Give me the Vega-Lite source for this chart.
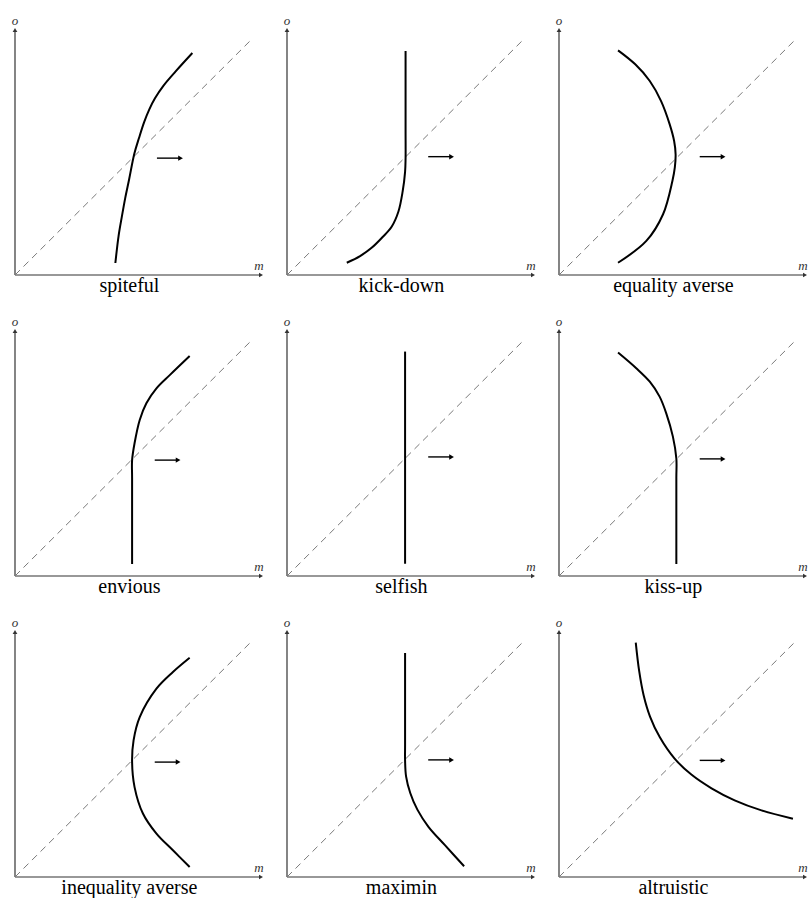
{
  "$schema": "https://vega.github.io/schema/vega-lite/v6.json",
  "bounds": "flush",
  "padding": {"left": 11, "top": 15, "right": 0, "bottom": 0},
  "config": {"view": {"stroke": null}, "headerFacet": {"labels": false, "title": null, "labelFontSize": 0, "labelPadding": 0}, "header": {"labels": false, "labelFontSize": 0, "labelPadding": 0}},
  "data": {"values": [
    {"panel": "spiteful", "kind": "diag", "x": 0, "y": 0, "x2": 0.96, "y2": 0.96},
    {"panel": "spiteful", "kind": "arrow", "x": 0.577, "x2": 0.673, "y": 0.477},
    {"panel": "spiteful", "kind": "curve", "ord": 1, "x": 0.408, "y": 0.049},
    {"panel": "spiteful", "kind": "curve", "ord": 2, "x": 0.421, "y": 0.159},
    {"panel": "spiteful", "kind": "curve", "ord": 3, "x": 0.434, "y": 0.236},
    {"panel": "spiteful", "kind": "curve", "ord": 4, "x": 0.448, "y": 0.314},
    {"panel": "spiteful", "kind": "curve", "ord": 5, "x": 0.464, "y": 0.391},
    {"panel": "spiteful", "kind": "curve", "ord": 6, "x": 0.485, "y": 0.495},
    {"panel": "spiteful", "kind": "curve", "ord": 7, "x": 0.504, "y": 0.559},
    {"panel": "spiteful", "kind": "curve", "ord": 8, "x": 0.525, "y": 0.624},
    {"panel": "spiteful", "kind": "curve", "ord": 9, "x": 0.546, "y": 0.676},
    {"panel": "spiteful", "kind": "curve", "ord": 10, "x": 0.569, "y": 0.721},
    {"panel": "spiteful", "kind": "curve", "ord": 11, "x": 0.603, "y": 0.772},
    {"panel": "spiteful", "kind": "curve", "ord": 12, "x": 0.653, "y": 0.831},
    {"panel": "spiteful", "kind": "curve", "ord": 13, "x": 0.721, "y": 0.906},

    {"panel": "kick-down", "kind": "diag", "x": 0, "y": 0, "x2": 0.96, "y2": 0.96},
    {"panel": "kick-down", "kind": "arrow", "x": 0.574, "x2": 0.669, "y": 0.483},
    {"panel": "kick-down", "kind": "curve", "ord": 1, "x": 0.482, "y": 0.914},
    {"panel": "kick-down", "kind": "curve", "ord": 2, "x": 0.482, "y": 0.600},
    {"panel": "kick-down", "kind": "curve", "ord": 3, "x": 0.482, "y": 0.475},
    {"panel": "kick-down", "kind": "curve", "ord": 4, "x": 0.480, "y": 0.421},
    {"panel": "kick-down", "kind": "curve", "ord": 5, "x": 0.470, "y": 0.340},
    {"panel": "kick-down", "kind": "curve", "ord": 6, "x": 0.453, "y": 0.259},
    {"panel": "kick-down", "kind": "curve", "ord": 7, "x": 0.426, "y": 0.198},
    {"panel": "kick-down", "kind": "curve", "ord": 8, "x": 0.385, "y": 0.151},
    {"panel": "kick-down", "kind": "curve", "ord": 9, "x": 0.344, "y": 0.111},
    {"panel": "kick-down", "kind": "curve", "ord": 10, "x": 0.297, "y": 0.077},
    {"panel": "kick-down", "kind": "curve", "ord": 11, "x": 0.243, "y": 0.050},

    {"panel": "equality averse", "kind": "diag", "x": 0, "y": 0, "x2": 0.96, "y2": 0.96},
    {"panel": "equality averse", "kind": "arrow", "x": 0.572, "x2": 0.667, "y": 0.483},
    {"panel": "equality averse", "kind": "curve", "ord": 1, "x": 0.240, "y": 0.917},
    {"panel": "equality averse", "kind": "curve", "ord": 2, "x": 0.310, "y": 0.860},
    {"panel": "equality averse", "kind": "curve", "ord": 3, "x": 0.369, "y": 0.792},
    {"panel": "equality averse", "kind": "curve", "ord": 4, "x": 0.415, "y": 0.710},
    {"panel": "equality averse", "kind": "curve", "ord": 5, "x": 0.450, "y": 0.615},
    {"panel": "equality averse", "kind": "curve", "ord": 6, "x": 0.468, "y": 0.547},
    {"panel": "equality averse", "kind": "curve", "ord": 7, "x": 0.474, "y": 0.493},
    {"panel": "equality averse", "kind": "curve", "ord": 8, "x": 0.471, "y": 0.440},
    {"panel": "equality averse", "kind": "curve", "ord": 9, "x": 0.461, "y": 0.384},
    {"panel": "equality averse", "kind": "curve", "ord": 10, "x": 0.423, "y": 0.248},
    {"panel": "equality averse", "kind": "curve", "ord": 11, "x": 0.355, "y": 0.139},
    {"panel": "equality averse", "kind": "curve", "ord": 12, "x": 0.240, "y": 0.050},

    {"panel": "envious", "kind": "diag", "x": 0, "y": 0, "x2": 0.96, "y2": 0.96},
    {"panel": "envious", "kind": "arrow", "x": 0.568, "x2": 0.663, "y": 0.473},
    {"panel": "envious", "kind": "curve", "ord": 1, "x": 0.476, "y": 0.049},
    {"panel": "envious", "kind": "curve", "ord": 2, "x": 0.476, "y": 0.400},
    {"panel": "envious", "kind": "curve", "ord": 3, "x": 0.476, "y": 0.473},
    {"panel": "envious", "kind": "curve", "ord": 4, "x": 0.486, "y": 0.542},
    {"panel": "envious", "kind": "curve", "ord": 5, "x": 0.507, "y": 0.637},
    {"panel": "envious", "kind": "curve", "ord": 6, "x": 0.534, "y": 0.705},
    {"panel": "envious", "kind": "curve", "ord": 7, "x": 0.575, "y": 0.766},
    {"panel": "envious", "kind": "curve", "ord": 8, "x": 0.629, "y": 0.820},
    {"panel": "envious", "kind": "curve", "ord": 9, "x": 0.710, "y": 0.898},

    {"panel": "selfish", "kind": "diag", "x": 0, "y": 0, "x2": 0.96, "y2": 0.96},
    {"panel": "selfish", "kind": "arrow", "x": 0.574, "x2": 0.669, "y": 0.486},
    {"panel": "selfish", "kind": "curve", "ord": 1, "x": 0.480, "y": 0.050},
    {"panel": "selfish", "kind": "curve", "ord": 2, "x": 0.480, "y": 0.916},

    {"panel": "kiss-up", "kind": "diag", "x": 0, "y": 0, "x2": 0.96, "y2": 0.96},
    {"panel": "kiss-up", "kind": "arrow", "x": 0.572, "x2": 0.667, "y": 0.478},
    {"panel": "kiss-up", "kind": "curve", "ord": 1, "x": 0.240, "y": 0.912},
    {"panel": "kiss-up", "kind": "curve", "ord": 2, "x": 0.314, "y": 0.848},
    {"panel": "kiss-up", "kind": "curve", "ord": 3, "x": 0.369, "y": 0.793},
    {"panel": "kiss-up", "kind": "curve", "ord": 4, "x": 0.409, "y": 0.732},
    {"panel": "kiss-up", "kind": "curve", "ord": 5, "x": 0.436, "y": 0.664},
    {"panel": "kiss-up", "kind": "curve", "ord": 6, "x": 0.463, "y": 0.569},
    {"panel": "kiss-up", "kind": "curve", "ord": 7, "x": 0.477, "y": 0.480},
    {"panel": "kiss-up", "kind": "curve", "ord": 8, "x": 0.477, "y": 0.400},
    {"panel": "kiss-up", "kind": "curve", "ord": 9, "x": 0.477, "y": 0.049},

    {"panel": "inequality averse", "kind": "diag", "x": 0, "y": 0, "x2": 0.96, "y2": 0.96},
    {"panel": "inequality averse", "kind": "arrow", "x": 0.568, "x2": 0.663, "y": 0.469},
    {"panel": "inequality averse", "kind": "curve", "ord": 1, "x": 0.710, "y": 0.895},
    {"panel": "inequality averse", "kind": "curve", "ord": 2, "x": 0.642, "y": 0.837},
    {"panel": "inequality averse", "kind": "curve", "ord": 3, "x": 0.575, "y": 0.769},
    {"panel": "inequality averse", "kind": "curve", "ord": 4, "x": 0.507, "y": 0.653},
    {"panel": "inequality averse", "kind": "curve", "ord": 5, "x": 0.482, "y": 0.558},
    {"panel": "inequality averse", "kind": "curve", "ord": 6, "x": 0.476, "y": 0.469},
    {"panel": "inequality averse", "kind": "curve", "ord": 7, "x": 0.486, "y": 0.367},
    {"panel": "inequality averse", "kind": "curve", "ord": 8, "x": 0.520, "y": 0.259},
    {"panel": "inequality averse", "kind": "curve", "ord": 9, "x": 0.575, "y": 0.177},
    {"panel": "inequality averse", "kind": "curve", "ord": 10, "x": 0.642, "y": 0.109},
    {"panel": "inequality averse", "kind": "curve", "ord": 11, "x": 0.710, "y": 0.041},

    {"panel": "maximin", "kind": "diag", "x": 0, "y": 0, "x2": 0.96, "y2": 0.96},
    {"panel": "maximin", "kind": "arrow", "x": 0.574, "x2": 0.669, "y": 0.478},
    {"panel": "maximin", "kind": "curve", "ord": 1, "x": 0.480, "y": 0.914},
    {"panel": "maximin", "kind": "curve", "ord": 2, "x": 0.480, "y": 0.540},
    {"panel": "maximin", "kind": "curve", "ord": 3, "x": 0.480, "y": 0.475},
    {"panel": "maximin", "kind": "curve", "ord": 4, "x": 0.484, "y": 0.411},
    {"panel": "maximin", "kind": "curve", "ord": 5, "x": 0.501, "y": 0.343},
    {"panel": "maximin", "kind": "curve", "ord": 6, "x": 0.530, "y": 0.275},
    {"panel": "maximin", "kind": "curve", "ord": 7, "x": 0.575, "y": 0.205},
    {"panel": "maximin", "kind": "curve", "ord": 8, "x": 0.642, "y": 0.130},
    {"panel": "maximin", "kind": "curve", "ord": 9, "x": 0.720, "y": 0.044},

    {"panel": "altruistic", "kind": "diag", "x": 0, "y": 0, "x2": 0.96, "y2": 0.96},
    {"panel": "altruistic", "kind": "arrow", "x": 0.572, "x2": 0.667, "y": 0.476},
    {"panel": "altruistic", "kind": "curve", "ord": 1, "x": 0.312, "y": 0.957},
    {"panel": "altruistic", "kind": "curve", "ord": 2, "x": 0.326, "y": 0.840},
    {"panel": "altruistic", "kind": "curve", "ord": 3, "x": 0.344, "y": 0.742},
    {"panel": "altruistic", "kind": "curve", "ord": 4, "x": 0.370, "y": 0.655},
    {"panel": "altruistic", "kind": "curve", "ord": 5, "x": 0.410, "y": 0.570},
    {"panel": "altruistic", "kind": "curve", "ord": 6, "x": 0.470, "y": 0.483},
    {"panel": "altruistic", "kind": "curve", "ord": 7, "x": 0.538, "y": 0.418},
    {"panel": "altruistic", "kind": "curve", "ord": 8, "x": 0.620, "y": 0.362},
    {"panel": "altruistic", "kind": "curve", "ord": 9, "x": 0.714, "y": 0.313},
    {"panel": "altruistic", "kind": "curve", "ord": 10, "x": 0.823, "y": 0.272},
    {"panel": "altruistic", "kind": "curve", "ord": 11, "x": 0.951, "y": 0.238}
  ]},
  "facet": {
    "field": "panel", "type": "nominal",
    "sort": ["spiteful", "kick-down", "equality averse", "envious", "selfish", "kiss-up", "inequality averse", "maximin", "altruistic"],
    "header": {"title": null, "labels": false, "labelFontSize": 0, "labelPadding": 0, "labelExpr": "''"}
  },
  "columns": 3,
  "spacing": {"row": 56, "column": 26},
  "spec": {
    "width": 246,
    "height": 245,
    "layer": [
      {
        "transform": [{"filter": "datum.kind === 'diag'"}],
        "mark": {"type": "rule", "color": "#333333", "strokeWidth": 1.2},
        "encoding": {
          "x": {"datum": 0, "type": "quantitative", "scale": {"domain": [0, 1], "nice": false}, "axis": null},
          "x2": {"datum": 1},
          "y": {"datum": 0, "type": "quantitative", "scale": {"domain": [0, 1], "nice": false}, "axis": null}
        }
      },
      {
        "transform": [{"filter": "datum.kind === 'diag'"}],
        "mark": {"type": "rule", "color": "#333333", "strokeWidth": 1.2},
        "encoding": {
          "x": {"datum": 0, "type": "quantitative"},
          "y": {"datum": 0, "type": "quantitative"},
          "y2": {"datum": 1}
        }
      },
      {
        "transform": [{"filter": "datum.kind === 'diag'"}],
        "mark": {"type": "point", "shape": "triangle-right", "filled": true, "size": 22, "color": "#333333", "opacity": 1},
        "encoding": {
          "x": {"datum": 1, "type": "quantitative"},
          "y": {"datum": 0, "type": "quantitative"}
        }
      },
      {
        "transform": [{"filter": "datum.kind === 'diag'"}],
        "mark": {"type": "point", "shape": "triangle-up", "filled": true, "size": 22, "color": "#333333", "opacity": 1},
        "encoding": {
          "x": {"datum": 0, "type": "quantitative"},
          "y": {"datum": 1, "type": "quantitative"}
        }
      },
      {
        "transform": [{"filter": "datum.kind === 'diag'"}],
        "mark": {"type": "text", "text": "m", "font": "Liberation Serif", "fontStyle": "italic", "fontSize": 13, "align": "center", "baseline": "alphabetic", "dx": -2, "dy": -5, "color": "#333333"},
        "encoding": {
          "x": {"datum": 1, "type": "quantitative"},
          "y": {"datum": 0, "type": "quantitative"}
        }
      },
      {
        "transform": [{"filter": "datum.kind === 'diag'"}],
        "mark": {"type": "text", "text": "o", "font": "Liberation Serif", "fontStyle": "italic", "fontSize": 13, "align": "center", "baseline": "alphabetic", "dy": -5, "color": "#333333"},
        "encoding": {
          "x": {"datum": 0, "type": "quantitative"},
          "y": {"datum": 1, "type": "quantitative"}
        }
      },
      {
        "transform": [{"filter": "datum.kind === 'diag'"}],
        "mark": {"type": "rule", "color": "#7a7a7a", "strokeWidth": 1, "strokeDash": [7, 5]},
        "encoding": {
          "x": {"field": "x", "type": "quantitative"},
          "y": {"field": "y", "type": "quantitative"},
          "x2": {"field": "x2"},
          "y2": {"field": "y2"}
        }
      },
      {
        "transform": [{"filter": "datum.kind === 'curve'"}],
        "mark": {"type": "line", "color": "#000000", "strokeWidth": 2, "interpolate": "catmull-rom"},
        "encoding": {
          "x": {"field": "x", "type": "quantitative"},
          "y": {"field": "y", "type": "quantitative"},
          "order": {"field": "ord", "type": "quantitative"}
        }
      },
      {
        "transform": [{"filter": "datum.kind === 'arrow'"}],
        "mark": {"type": "rule", "color": "#000000", "strokeWidth": 1.4},
        "encoding": {
          "x": {"field": "x", "type": "quantitative"},
          "x2": {"field": "x2"},
          "y": {"field": "y", "type": "quantitative"}
        }
      },
      {
        "transform": [{"filter": "datum.kind === 'arrow'"}],
        "mark": {"type": "point", "shape": "triangle-right", "filled": true, "size": 30, "color": "#000000", "opacity": 1},
        "encoding": {
          "x": {"field": "x2", "type": "quantitative"},
          "y": {"field": "y", "type": "quantitative"}
        }
      },
      {
        "transform": [{"filter": "datum.kind === 'diag'"}],
        "mark": {"type": "text", "font": "Liberation Serif", "fontSize": 20, "align": "center", "baseline": "alphabetic", "dy": 17, "color": "#000000"},
        "encoding": {
          "x": {"datum": 0.465, "type": "quantitative"},
          "y": {"datum": 0, "type": "quantitative"},
          "text": {"field": "panel", "type": "nominal"}
        }
      }
    ]
  }
}
